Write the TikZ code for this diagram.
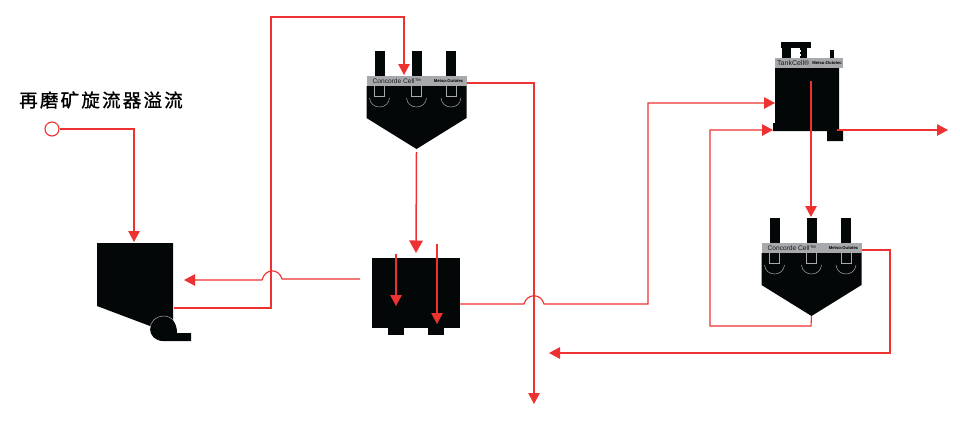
\documentclass[tikz,border=0pt]{standalone}
\usepackage{fontspec}
\setmainfont{Liberation Sans}
\newfontfamily\cjk[LetterSpace=12,FakeBold=1]{Noto Sans CJK SC}
\usetikzlibrary{arrows.meta}
\definecolor{flowred}{HTML}{EE3231}
\definecolor{bandgray}{HTML}{A7A9AC}
\definecolor{unitblack}{HTML}{040708}
\tikzset{
    flowline/.style={flowred, line width=1.15pt, line join=miter},
    flowarrow/.style={flowline, -{Triangle[width=11.5pt,length=11pt]}},
    bigarrow/.style={flowline, line width=1.5pt, -{Triangle[width=13.5pt,length=12.5pt]}},
    unit/.style={fill=unitblack},
    band/.style={fill=bandgray, draw=none},
    inner/.style={bandgray, line width=0.5pt},
    bandtext/.style={inner sep=0pt, text=black!90, font=\fontsize{6.6}{8}\selectfont},
    brandtext/.style={inner sep=0pt, text=black, font=\fontsize{4.2}{5}\selectfont\bfseries}
}
\begin{document}
\begin{tikzpicture}[x=1pt, y=-1pt]

            \useasboundingbox (0,0) rectangle (960,421);

            % Feed label and feed point
            \node[inner sep=0pt, font=\cjk\fontsize{18.5}{20}\selectfont] (feedlabel) at (101,100) {再磨矿旋流器溢流};
            \node[circle, draw=flowred, line width=1.1pt, fill=white, minimum size=14pt, inner sep=0pt] (feed) at (52,129) {};

            % Pump box with pump below
            \fill[unit] (150,326) -- (97,306) -- (97,243) -- (173,243) -- (173,326) -- cycle;
            \fill[unit] (177,333) -- (191,333) -- (191,341) -- (163,341)
            .. controls (155,341) and (150,335) .. (150,329)
            .. controls (150,322) and (156,316) .. (163,316)
            .. controls (171,316) and (177,322) .. (177,333) -- cycle;
            \draw[inner] (150,329) .. controls (150,322) and (156,316) .. (163,316)
            .. controls (167,316) and (170,317) .. (173,320);

            % Conditioning tank with two feet
            \fill[unit] (372,258) rectangle (460,328);
            \foreach \xF in {388, 428} {
                    \fill[unit] (\xF,327) rectangle ({\xF+15.5},335);
                }

            % Both Concorde cells
            \foreach \cx/\cy/\cname in {416.5/76/celltop, 811.5/243/cellbottom} {
                    % Pipes above the band
                    \foreach \dx in {-37, 0, 34.5} {
                            \fill[unit] ({\cx+\dx-5},{\cy-25}) rectangle ({\cx+\dx+5},{\cy+1});
                        }
                    % Body
                    \fill[unit] ({\cx-50},{\cy+10}) -- ({\cx+50},{\cy+10}) -- ({\cx+50},{\cy+42})
                    -- ({\cx},{\cy+73}) -- ({\cx-50},{\cy+42}) -- cycle;
                    % Pipe ends and launders inside the body
                    \foreach \dx in {-37, 0, 34.5} {
                            \draw[inner] ({\cx+\dx-5},{\cy+10}) -- ({\cx+\dx-5},{\cy+20}) -- ({\cx+\dx+5},{\cy+20}) -- ({\cx+\dx+5},{\cy+10});
                            \draw[inner] ({\cx+\dx-10},{\cy+22}) .. controls ({\cx+\dx-9},{\cy+34}) and ({\cx+\dx+9},{\cy+34}) .. ({\cx+\dx+10},{\cy+22});
                        }
                    % Band with its texts
                    \fill[band] ({\cx-50},{\cy}) rectangle ({\cx+50},{\cy+10});
                    \node[bandtext, anchor=west] (\cname name) at ({\cx-44},{\cy+5}) {Concorde Cell™};
                    \node[brandtext, anchor=east] (\cname brand) at ({\cx+47},{\cy+5}) {Metso:Outotec};
                    % Connection points
                    \coordinate (\cname tip) at ({\cx},{\cy+73});
                    \coordinate (\cname out) at ({\cx+50},{\cy+7});
                }

            % TankCell
            \fill[unit] (781,42) rectangle (811,48);
            \fill[unit] (782,48) rectangle (791,58);
            \fill[unit] (800,48) rectangle (807,58);
            \fill[white] (798,50) rectangle (800.5,52);
            \fill[white] (798,54) rectangle (800.5,56);
            \fill[unit] (830,50) rectangle (834,58);
            \fill[unit] (775,68) -- (839,68) -- (839,131) -- (843,131) -- (843,141) -- (827,141) -- (827,131)
            -- (773,131) -- (773,123) -- (775,123) -- cycle;
            \fill[band] (775,58) rectangle (843,68);
            \node[inner sep=0pt, text=black!90, font=\fontsize{7}{8}\selectfont, anchor=west] (tankname) at (777,63) {TankCell®};
            \node[brandtext, anchor=east] (tankbrand) at (842,63) {Metso:Outotec};

            % Connection points of the flow lines
            \coordinate (hopperin) at (134,242);
            \coordinate (hopperarrow) at (184,280);
            \coordinate (pumpout) at (174,308);
            \coordinate (topfeed) at (404,75);
            \coordinate (tailsend) at (534,404);
            \coordinate (returnstart) at (360,279);
            \coordinate (tankfeed) at (416,253);
            \coordinate (tankout) at (460,304);
            \coordinate (cellfeed) at (775,103);
            \coordinate (cellreturn) at (773,130);
            \coordinate (tankcellstart) at (811,81);
            \coordinate (bottomfeed) at (811,217);
            \coordinate (cellout) at (837,130);
            \coordinate (productend) at (948,130);
            \coordinate (bottomend) at (549,353);

            % Feed to pump box
            \draw[flowarrow] (feed) -| (hopperin);

            % Pump to first cell
            \draw[flowarrow] (pumpout) -- (271,308) -- (271,17) -| (topfeed);

            % First cell to the bottom end
            \draw[flowarrow] (celltopout) -| (tailsend);

            % First cell to tank
            \draw[bigarrow] (celltoptip) ++(0,3) -- (tankfeed);

            % Arrows inside the tank
            \draw[flowarrow] (396,254) -- (396,306);
            \draw[flowarrow] (437,244) -- (437,324);

            % Tank back to pump box, hump over the riser
            \draw[flowarrow] (returnstart) -- (282,279)
            .. controls (279,268) and (265,268) .. (262,280) -- (hopperarrow);

            % Tank to TankCell, hump over the tail line
            \draw[flowarrow] (tankout) -- (524,304)
            .. controls (527,293) and (541,293) .. (544,304) -- (648,304) -- (648,103) -- (cellfeed);

            % TankCell to cell below and to product
            \draw[flowarrow] (tankcellstart) -- (bottomfeed);
            \draw[flowarrow] (cellout) -- (productend);

            % Bottom cell back to TankCell
            \draw[flowarrow] (cellbottomtip) -- (811,326) -- (710,326) -- (710,130) -- (cellreturn);

            % Bottom cell to bottom line
            \draw[flowarrow] (cellbottomout) -- (890,250) -- (890,353) -- (bottomend);

        \end{tikzpicture}
\end{document}
